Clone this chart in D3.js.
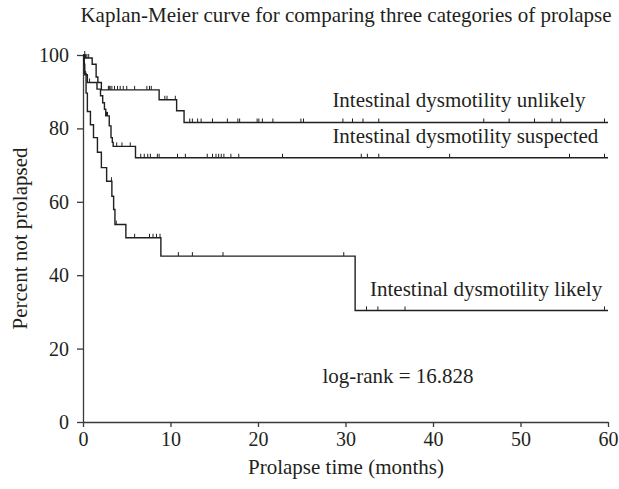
<!DOCTYPE html>
<html lang="en">
<head>
<meta charset="utf-8">
<title>Kaplan-Meier curve</title>
<script src="https://d3js.org/d3.v7.min.js"></script>
<style>
  body { margin: 0; background: #fff; }
  svg text { font-family: "Liberation Serif", "DejaVu Serif", serif; fill: #231f20; }
  .axis path, .axis line { stroke: #3a3a3a; stroke-width: 1.3; }
  .axis text { font-size: 20px; }
</style>
</head>
<body>
<script>
// axis ticks
var xTicks = [0, 10, 20, 30, 40, 50, 60];
var yTicks = [0, 20, 40, 60, 80, 100];

// Intestinal dysmotility unlikely
var unlikelyTime = [0, 0.3, 1.05, 1.5, 1.7, 2.1, 8.7, 10.7, 11.55];
var unlikelySurv = [100, 99.2, 97.5, 94, 92.5, 90.5, 87.8, 84.8, 81.6];
var unlikelyCens = [0.2, 0.45, 0.65, 2.9, 3.0, 3.1, 3.3, 3.6, 3.95, 4.25, 4.6, 5.0, 5.9, 7.3, 7.6, 7.8,
                    9.35, 9.6, 10.55, 12.2, 12.5, 13.1, 13.5, 14.8, 16.5, 17.7, 17.9, 19.9, 20.1, 20.5,
                    21.7, 24.9, 25.2, 29.7, 30.8, 32, 33.8, 45.8, 48.7, 51.6, 53.6, 54.6, 59.6];

// Intestinal dysmotility suspected
var suspectedTime = [0, 0.1, 0.2, 0.5, 1.6, 2.0, 2.25, 2.45, 2.6, 3.0, 3.2, 3.35, 3.45, 6.0];
var suspectedSurv = [100, 97.5, 94.6, 92.5, 90.7, 88.9, 87, 85.2, 83.4, 80.7, 77.5, 76.2, 75.1, 72.0];
var suspectedCens = [0.3, 0.75, 2.65, 2.7, 2.75, 2.8, 3.85, 4.45, 5.4, 6.6, 7.0, 7.4, 7.7, 8.5, 8.7,
                     10.8, 11.7, 14.2, 14.8, 15.2, 15.5, 15.8, 16.1, 16.9, 17.8, 22.8, 31.8, 32.5, 33.8,
                     41.9, 55.6, 59.6];

// Intestinal dysmotility likely
var likelyTime = [0, 0.15, 0.35, 0.5, 0.85, 1.2, 1.65, 2.1, 2.7, 3.3, 3.5, 3.65, 4.9, 8.9, 31.1];
var likelySurv = [100, 95, 89.6, 84.6, 81, 77.5, 73.5, 69.3, 65.6, 61.5, 57.9, 53.8, 50.2, 45.2, 30.4];
var likelyCens = [3.25, 3.8, 5.9, 7.6, 8.0, 8.4, 8.8, 10.9, 12.5, 16.0, 29.8, 32.4, 33.7, 36.8, 59.6];

var curves = [
  { name: "Intestinal dysmotility unlikely", time: unlikelyTime, surv: unlikelySurv, cens: unlikelyCens, lab: [28.5, 85.7] },
  { name: "Intestinal dysmotility suspected", time: suspectedTime, surv: suspectedSurv, cens: suspectedCens, lab: [28.5, 76.0] },
  { name: "Intestinal dysmotility likely", time: likelyTime, surv: likelySurv, cens: likelyCens, lab: [32.8, 34.4] }
];

var w = 619, h = 489;

var svg = d3.select("body").append("svg")
  .attr("width", w)
  .attr("height", h)
  .attr("font-family", "Liberation Serif, serif");

var x = d3.scaleLinear().domain([0, 60]).range([83, 608]);
var y = d3.scaleLinear().domain([0, 100]).range([422, 55]);

// title
svg.append("text")
  .attr("x", 346)
  .attr("y", 22)
  .attr("text-anchor", "middle")
  .style("font-size", "21px")
  .text("Kaplan-Meier curve for comparing three categories of prolapse");

// axes
svg.append("g")
  .attr("class", "axis")
  .attr("transform", "translate(0," + y(0) + ")")
  .call(d3.axisBottom(x).tickValues(xTicks).tickSizeInner(5).tickSizeOuter(0).tickPadding(5))
  .selectAll("text").attr("fill", "#231f20");

svg.append("g")
  .attr("class", "axis")
  .attr("transform", "translate(" + x(0) + ",0)")
  .call(d3.axisLeft(y).tickValues(yTicks).tickSizeInner(6).tickSizeOuter(0).tickPadding(8))
  .selectAll("text").attr("fill", "#231f20");

svg.append("text")
  .attr("x", 346)
  .attr("y", 474)
  .attr("text-anchor", "middle")
  .style("font-size", "21px")
  .text("Prolapse time (months)");

svg.append("text")
  .attr("transform", "translate(27," + ((y(0) + y(100)) / 2) + ") rotate(-90)")
  .attr("text-anchor", "middle")
  .style("font-size", "21px")
  .text("Percent not prolapsed");

// step curves
var line = d3.line()
  .x(function(d) { return x(d[0]); })
  .y(function(d) { return y(d[1]); })
  .curve(d3.curveStepAfter);

function valueAt(c, t) {
  var v = c.surv[0];
  for (var i = 0; i < c.time.length; i++) {
    if (c.time[i] <= t) v = c.surv[i];
  }
  return v;
}

curves.forEach(function(c) {
  var pts = c.time.map(function(t, i) { return [t, c.surv[i]]; });
  pts.push([60, c.surv[c.surv.length - 1]]);

  svg.append("path")
    .datum(pts)
    .attr("d", line)
    .attr("fill", "none")
    .attr("stroke", "#231f20")
    .attr("stroke-width", 1.4);

  // censor marks
  svg.selectAll(null)
    .data(c.cens)
    .enter()
    .append("line")
    .attr("x1", function(d) { return x(d); })
    .attr("x2", function(d) { return x(d); })
    .attr("y1", function(d) { return y(valueAt(c, d)); })
    .attr("y2", function(d) { return y(valueAt(c, d)) - 4; })
    .attr("stroke", "#231f20")
    .attr("stroke-width", 1);

  svg.append("text")
    .attr("x", x(c.lab[0]))
    .attr("y", y(c.lab[1]))
    .style("font-size", "21px")
    .text(c.name);
});

svg.append("text")
  .attr("x", x(36))
  .attr("y", y(10.6))
  .attr("text-anchor", "middle")
  .style("font-size", "21px")
  .text("log-rank = 16.828");
</script>
</body>
</html>
